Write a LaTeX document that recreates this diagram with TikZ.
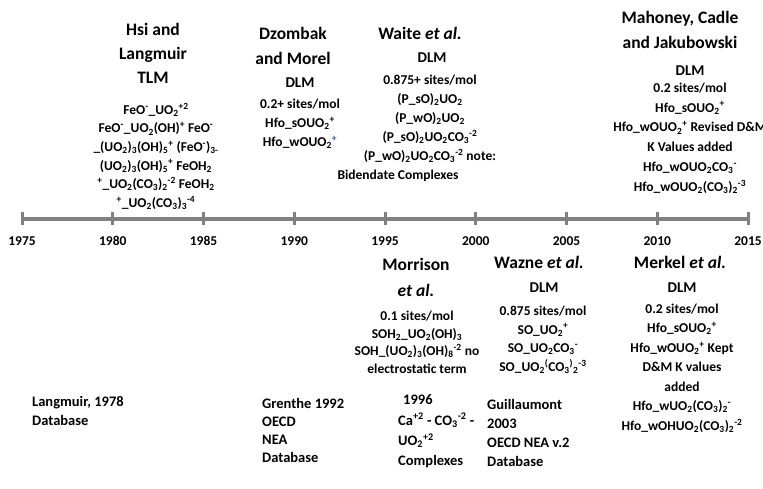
\documentclass[tikz,border=0pt]{standalone}
\usepackage{fontspec}
\setmainfont{Carlito}
\definecolor{axisgray}{RGB}{128,128,128}
\definecolor{plusblue}{RGB}{46,84,150}
\newcommand{\chsub}[1]{\textsubscript{#1}}
\newcommand{\chsup}[1]{\textsuperscript{#1}}

\begin{document}
\begin{tikzpicture}[x=1pt, y=-1pt,
  titletxt/.style={anchor=base, align=center, inner sep=0pt,
                   font=\fontsize{17.5}{24.5}\selectfont\bfseries},
  modeltxt/.style={anchor=base, inner sep=0pt,
                   font=\fontsize{15}{18}\selectfont\bfseries},
  bodytxt/.style={anchor=base, align=center, inner sep=0pt,
                  font=\fontsize{13.5}{19}\selectfont\bfseries},
  dbtxt/.style={anchor=base west, align=left, inner sep=0pt,
                font=\fontsize{14.5}{19}\selectfont\bfseries},
  yeartxt/.style={anchor=base, inner sep=0pt,
                  font=\fontsize{13.5}{16}\selectfont\bfseries},
  axisline/.style={draw=axisgray, line width=3.5pt},
  tickline/.style={draw=axisgray, line width=3pt},
]
  \useasboundingbox (0,0) rectangle (763,489);

  % Timeline
  \coordinate (tlstart) at (22,219);
  \coordinate (tlend) at (748,219);
  \draw[axisline] (tlstart) -- (tlend);
  \foreach \yr in {1975,1980,...,2015} {
    \coordinate (t\yr) at ({22+18.15*(\yr-1975)},219);
    \draw[tickline] ([yshift=-6pt]t\yr) -- ([yshift=7pt]t\yr);
    \node[yeartxt] (y\yr) at ({22+18.15*(\yr-1975)},245.3) {\yr};
  }

  % Above the line (base = baseline of the last line)
  \node[titletxt, font=\fontsize{17.5}{24}\selectfont\bfseries] (hsi) at (153,83.6)
    {Hsi and\\Langmuir\\TLM};
  \node[bodytxt, font=\fontsize{13.5}{18.6}\selectfont\bfseries] (hsibody) at (156,207.3)
    {FeO\chsup{-}\_UO\chsub{2}\chsup{+2}\\
     FeO\chsup{-}\_UO\chsub{2}(OH)\chsup{+} FeO\chsup{-}\\
     \_(UO\chsub{2})\chsub{3}(OH)\chsub{5}\chsup{+} (FeO\chsup{-})\chsub{3-}\\
     (UO\chsub{2})\chsub{3}(OH)\chsub{5}\chsup{+} FeOH\chsub{2}\\
     \chsup{+}\_UO\chsub{2}(CO\chsub{3})\chsub{2}\chsup{-2} FeOH\chsub{2}\\
     \chsup{+}\_UO\chsub{2}(CO\chsub{3})\chsub{3}\chsup{-4}};

  \node[titletxt, font=\fontsize{17.5}{25}\selectfont\bfseries] (dzombak) at (293,64.6)
    {Dzombak\\and Morel};
  \node[modeltxt] (dzombakdlm) at (300,87.8) {DLM};
  \node[bodytxt] (dzombakbody) at (300,146.3)
    {0.2+ sites/mol\\
     Hfo\_sOUO\chsub{2}\chsup{+}\\
     Hfo\_wOUO\chsub{2}\textcolor{plusblue}{\chsup{+}}};

  \node[titletxt] (waite) at (420,39.6) {Waite \textit{et al.}};
  \node[modeltxt] (waitedlm) at (432,62.8) {DLM};
  \node[bodytxt] (waitebody) at (430,160.3)
    {0.875+ sites/mol\\
     (P\_sO)\chsub{2}UO\chsub{2}\\
     (P\_wO)\chsub{2}UO\chsub{2}\\
     (P\_sO)\chsub{2}UO\chsub{2}CO\chsub{3}\chsup{-2}\\
     (P\_wO)\chsub{2}UO\chsub{2}CO\chsub{3}\chsup{-2} note:};
  \node[bodytxt] (waitenote) at (398,179.3) {Bidendate Complexes};

  \node[titletxt, font=\fontsize{17.5}{25}\selectfont\bfseries] (mahoney) at (680,48.6)
    {Mahoney, Cadle\\and Jakubowski};
  \node[modeltxt] (mahoneydlm) at (690,75.8) {DLM};
  \node[bodytxt, font=\fontsize{13.5}{19.8}\selectfont\bfseries] (mahoneybody) at (690,191.3)
    {0.2 sites/mol\\
     Hfo\_sOUO\chsub{2}\chsup{+}\\
     Hfo\_wOUO\chsub{2}\chsup{+} Revised D\&M\\
     K Values added\\
     Hfo\_wOUO\chsub{2}CO\chsub{3}\chsup{-}\\
     Hfo\_wOUO\chsub{2}(CO\chsub{3})\chsub{2}\chsup{-3}};

  % Below the line
  \node[titletxt, font=\fontsize{17.5}{26}\selectfont\bfseries] (morrison) at (416,296.6)
    {Morrison\\\textit{et al.}};
  \node[bodytxt, font=\fontsize{13.5}{17.7}\selectfont\bfseries] (morrisonbody) at (417,373.4)
    {0.1 sites/mol\\
     SOH\chsub{2}\_UO\chsub{2}(OH)\chsub{3}\\
     SOH\_(UO\chsub{2})\chsub{3}(OH)\chsub{8}\chsup{-2} no\\
     electrostatic term};

  \node[titletxt] (wazne) at (539,268.6) {Wazne \textit{et al.}};
  \node[modeltxt] (waznedlm) at (544,292.8) {DLM};
  \node[bodytxt, font=\fontsize{13.5}{18.7}\selectfont\bfseries] (waznebody) at (543,371.4)
    {0.875 sites/mol\\
     SO\_UO\chsub{2}\chsup{+}\\
     SO\_UO\chsub{2}CO\chsub{3}\chsup{-}\\
     SO\_UO\chsub{2}\chsup{(}CO\chsub{3}\chsup{)}\chsub{2}\chsup{-3}};

  \node[titletxt] (merkel) at (680,268.6) {Merkel \textit{et al.}};
  \node[modeltxt] (merkeldlm) at (682,292.8) {DLM};
  \node[bodytxt, font=\fontsize{13.5}{19.5}\selectfont\bfseries] (merkelbody) at (682,430.3)
    {0.2 sites/mol\\
     Hfo\_sOUO\chsub{2}\chsup{+}\\
     Hfo\_wOUO\chsub{2}\chsup{+} Kept\\
     D\&M K values\\
     added\\
     Hfo\_wUO\chsub{2}(CO\chsub{3})\chsub{2}\chsup{-}\\
     Hfo\_wOHUO\chsub{2}(CO\chsub{3})\chsub{2}\chsup{-2}};

  % Databases
  \node[dbtxt] (langmuirdb) at (32,425.7) {Langmuir, 1978\\Database};
  \node[dbtxt, font=\fontsize{14.5}{18}\selectfont\bfseries] (grenthedb) at (262,462.7)
    {Grenthe 1992\\OECD\\NEA\\Database};
  \node[dbtxt, font=\fontsize{14.5}{20.3}\selectfont\bfseries] (cacodb) at (398,465.6)
    {\hspace*{5pt}1996\\Ca\chsup{+2} - CO\chsub{3}\chsup{-2} -\\UO\chsub{2}\chsup{+2}\\Complexes};
  \node[dbtxt] (guillaumontdb) at (487,466.7)
    {Guillaumont\\2003\\OECD NEA v.2\\Database};
\end{tikzpicture}
\end{document}
